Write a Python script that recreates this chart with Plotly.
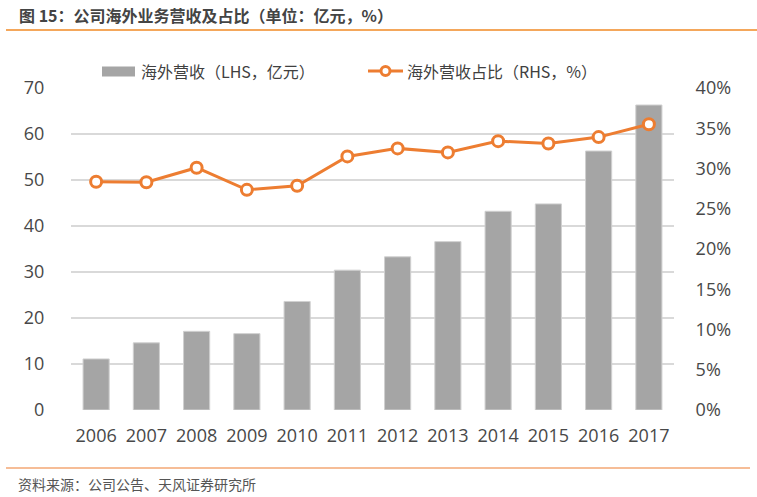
import plotly.graph_objects as go

years = ["2006", "2007", "2008", "2009", "2010", "2011", "2012", "2013", "2014", "2015", "2016", "2017"]
revenue = [11.1, 14.6, 17.1, 16.6, 23.6, 30.4, 33.3, 36.6, 43.2, 44.8, 56.3, 66.3]
share = [28.35, 28.3, 30.1, 27.35, 27.85, 31.5, 32.5, 32.0, 33.4, 33.1, 33.9, 35.5]

left_ticks = [0, 10, 20, 30, 40, 50, 60, 70]
right_ticks = [0, 5, 10, 15, 20, 25, 30, 35, 40]

bar_name = "海外营收（LHS，亿元）"
line_name = "海外营收占比（RHS，%）"

W, H = 757, 497
L, R, T, B = 71, 674, 88, 410
pw, ph = R - L, B - T

def px(x):
    return (x - L) / pw

def py(y):
    return (B - y) / ph

FONT = "Open Sans, Noto Sans CJK SC, sans-serif"
CJK = "Noto Sans CJK SC, sans-serif"
BAR_C = "#a5a5a5"
LINE_C = "#ed7d31"
TICK_C = "#484848"

fig = go.Figure()
fig.add_trace(go.Bar(
    x=years, y=revenue, name=bar_name, showlegend=False,
    marker=dict(color=BAR_C, line=dict(color="#d0d0d0", width=1)),
    yaxis="y",
))
fig.add_trace(go.Scatter(
    x=years, y=share, name=line_name, mode="lines+markers", showlegend=False,
    line=dict(color=LINE_C, width=3),
    marker=dict(size=11, color="white", line=dict(color=LINE_C, width=3)),
    yaxis="y2",
))

legend_y = 71
shapes = [
    dict(type="line", xref="paper", yref="paper", x0=px(6), x1=px(757), y0=py(30), y1=py(30),
         line=dict(color="#f08a24", width=1.5)),
    dict(type="line", xref="paper", yref="paper", x0=px(6), x1=px(750), y0=py(468), y1=py(468),
         line=dict(color=LINE_C, width=1.2)),
    # legend keys
    dict(type="rect", xref="paper", yref="paper", x0=px(102), x1=px(135), y0=py(76.5), y1=py(66.5),
         fillcolor=BAR_C, line=dict(width=0)),
    dict(type="line", xref="paper", yref="paper", x0=px(368), x1=px(403), y0=py(legend_y), y1=py(legend_y),
         line=dict(color=LINE_C, width=3)),
    dict(type="circle", xref="paper", yref="paper", x0=px(381), x1=px(390), y0=py(legend_y + 4.5), y1=py(legend_y - 4.5),
         fillcolor="white", line=dict(color=LINE_C, width=3)),
]

fig.update_layout(
    width=W, height=H,
    margin=dict(l=L, r=W - R, t=T, b=H - B, autoexpand=False),
    plot_bgcolor="white", paper_bgcolor="white",
    bargap=0.48,
    showlegend=False,
    xaxis=dict(
        type="category", range=[-0.5, len(years) - 0.5],
        showgrid=False, showline=False, zeroline=False, automargin=False,
        tickfont=dict(family=FONT, size=18, color=TICK_C),
        ticks="outside", ticklen=9, tickcolor="white",
    ),
    yaxis=dict(
        range=[0, 70], tickvals=left_ticks, showgrid=True, gridcolor="#d9d9d9", gridwidth=1.5,
        zeroline=False, showline=False, automargin=False,
        tickfont=dict(family=FONT, size=18, color=TICK_C),
        ticks="outside", ticklen=22, tickcolor="white",
    ),
    yaxis2=dict(
        range=[0, 40], tickvals=right_ticks, ticktext=[f"{v}%" for v in right_ticks],
        overlaying="y", side="right", showgrid=False, zeroline=False, showline=False, automargin=False,
        tickfont=dict(family=FONT, size=18, color=TICK_C),
        ticks="outside", ticklen=17, tickcolor="white",
    ),
    shapes=shapes,
    annotations=[
        dict(text="<b>图 15：公司海外业务营收及占比（单位：亿元，%）</b>", xref="paper", yref="paper",
             x=px(17), y=py(15), xanchor="left", yanchor="middle", showarrow=False,
             font=dict(family=CJK, size=16, color="#444444")),
        dict(text="资料来源：公司公告、天风证券研究所", xref="paper", yref="paper",
             x=px(16), y=py(484), xanchor="left", yanchor="middle", showarrow=False,
             font=dict(family=CJK, size=14, color="#555555")),
        dict(text=bar_name, xref="paper", yref="paper",
             x=px(139), y=py(legend_y), xanchor="left", yanchor="middle", showarrow=False,
             font=dict(family=CJK, size=16, color="#404040")),
        dict(text=line_name, xref="paper", yref="paper",
             x=px(405), y=py(legend_y), xanchor="left", yanchor="middle", showarrow=False,
             font=dict(family=CJK, size=16, color="#404040")),
    ],
)

fig.write_html("out.html")
